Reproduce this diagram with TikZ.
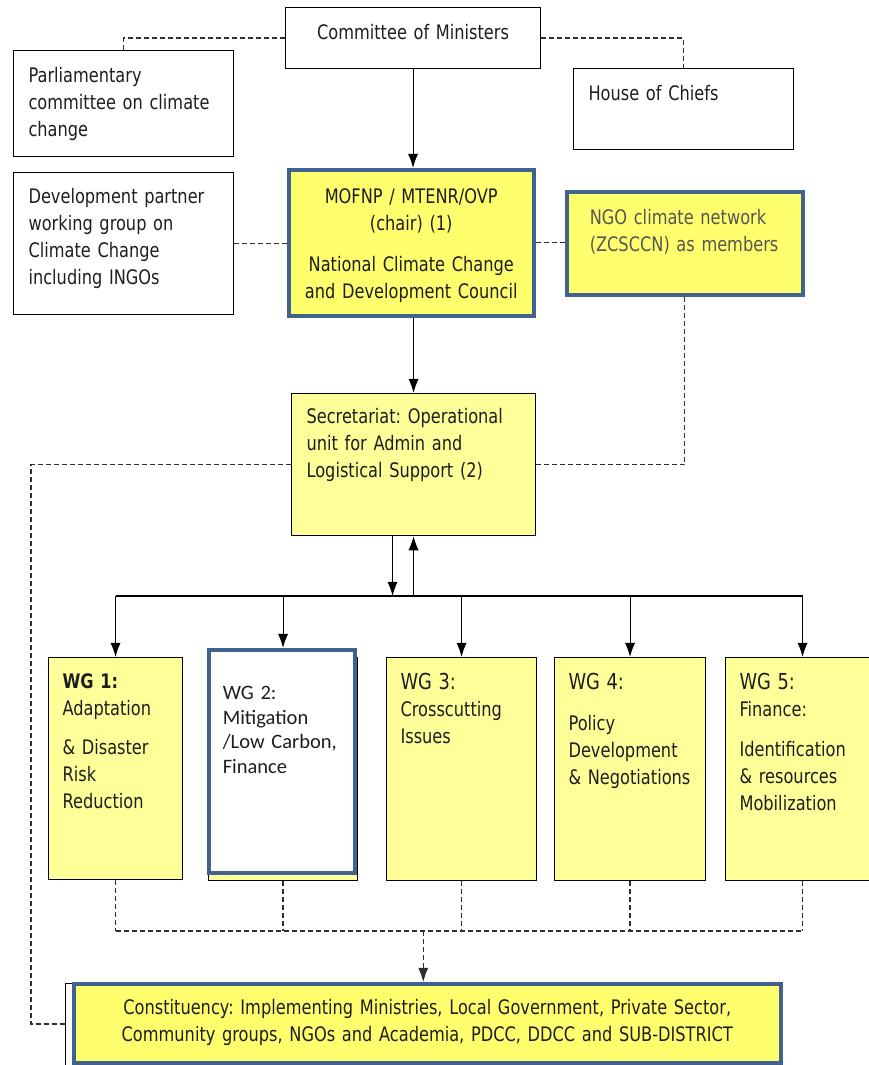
\documentclass[tikz,border=0pt]{standalone}
\usepackage{fontspec}
\setmainfont{DejaVu Sans}[FakeStretch=0.81]
\newfontfamily\wgtwofont{Carlito}
\usetikzlibrary{arrows.meta,positioning,calc}
\definecolor{Frame}{HTML}{41618F}
\definecolor{PaleYellow}{HTML}{FFFF99}
\definecolor{BrightYellow}{HTML}{FFFF6E}
\definecolor{Ink}{HTML}{1E1E1E}
\definecolor{Muted}{HTML}{555555}
\definecolor{DashGray}{HTML}{2E2E2E}
\newcommand\bodysize{\fontsize{20}{27}\selectfont\frenchspacing}
\newcommand\titlesize{\fontsize{22}{27}\selectfont}

\begin{document}
\begin{tikzpicture}[x=1pt,y=-1pt,
    every node/.style={font=\bodysize,text=Ink},
    box/.style={draw=black,line width=1.1pt,anchor=north west,inner ysep=0pt,inner xsep=15pt,align=left},
    dims/.style n args={3}{text width=#1,text height=#2,text depth=#3},
    pale/.style={fill=PaleYellow},
    framed/.style={draw=Frame,line width=3.5pt,fill=BrightYellow},
    link/.style={-{Latex[length=5mm,width=3.6mm]},line width=1.1pt},
    dashlink/.style={dash pattern=on 5pt off 3pt,line width=1.2pt,draw=DashGray}
]
\useasboundingbox (0,0) rectangle (869,1065);

% top row
\node[box,align=center,inner xsep=5pt,dims={245pt}{32pt}{29pt}] (com) at (285,7) {Committee of Ministers};
\node[box,dims={190pt}{31.5pt}{74.5pt}] (parl) at (13,50) {Parliamentary\\committee on climate\\change};
\node[box,dims={190pt}{32pt}{49pt}] (chiefs) at (573,68) {House of Chiefs};

% council row
\node[box,dims={190pt}{31pt}{111pt}] (devp) at (13,172) {Development partner\\working group on\\Climate Change\\including INGOs};
\node[box,framed,align=center,inner xsep=5pt,dims={235pt}{34pt}{112pt}] (council) at (287,168) {MOFNP / MTENR/OVP\\(chair) (1)\\[14pt]National Climate Change\\and Development Council};
\node[box,dims={190pt}{33pt}{61pt}] (ngoback) at (572,200) {};
\node[box,framed,inner xsep=23pt,text=Muted,dims={190pt}{33pt}{70pt}] (ngo) at (565,190) {NGO climate network\\(ZCSCCN) as members};

\node[box,pale,dims={214pt}{30pt}{112pt}] (sec) at (291,393) {Secretariat: Operational\\unit for Admin and\\Logistical Support (2)};

% working groups
\node[box,pale,inner xsep=14pt,dims={106pt}{31pt}{191pt}] (wg1) at (48,657) {\textbf{WG 1:}\\Adaptation\\[12pt]\& Disaster\\Risk\\Reduction};
\node[box,pale,dims={119pt}{31pt}{192pt}] (wg2back) at (208,657) {};
\node[box,draw=Frame,line width=3.5pt,fill=white,inner xsep=14pt,font=\wgtwofont\fontsize{20.5}{24.5}\selectfont,dims={118pt}{50pt}{173pt}] (wg2) at (207,648) {WG 2:\\Mitigation\\/Low Carbon,\\Finance};
\node[box,pale,inner xsep=14pt,dims={122pt}{32pt}{191pt}] (wg3) at (386,657) {{\titlesize WG 3:}\\Crosscutting\\Issues};
\node[box,pale,inner xsep=14pt,dims={123pt}{32pt}{191pt}] (wg4) at (554,657) {{\titlesize WG 4:}\\[14pt]Policy\\Development\\\& Negotiations};
\node[box,pale,inner xsep=14pt,dims={126pt}{32pt}{191pt}] (wg5) at (725,657) {{\titlesize WG 5:}\\Finance:\\[13pt]Identification\\\& resources\\Mobilization};

% constituency
\node[box,dims={682pt}{30pt}{62pt}] (conback) at (65,983) {};
\node[box,framed,align=center,inner xsep=5pt,font=\fontsize{20}{26.5}\selectfont\frenchspacing,dims={697pt}{31pt}{48pt}] (con) at (72,982) {Constituency: Implementing Ministries, Local Government, Private Sector,\\Community groups, NGOs and Academia, PDCC, DDCC and SUB-DISTRICT};

\coordinate (bus) at (0,596);
\coordinate (low) at (0,931);
\coordinate (lft) at (31,1024);

% solid links
\draw[link] (com.south) -- (com.south |- council.north);
\draw[link] (sec.north |- council.south) -- (sec.north);
\draw[link] ([xshift=-21pt]sec.south) -- ([xshift=-21pt]sec.south |- bus);
\draw[link] (sec.south |- bus) -- (sec.south);
\draw[line width=1.1pt] (wg1.north |- bus) -- (wg5.north |- bus);
\foreach \w/\t in {wg1/wg1,wg2back/wg2,wg3/wg3,wg4/wg4,wg5/wg5}
  \draw[link] (\w.north |- bus) -- (\w.north |- \t.north);

% dashed links
\draw[dashlink] (com.west) -| (parl.north);
\draw[dashlink] (com.east) -| (chiefs.north);
\draw[dashlink] (devp.east) -- (devp.east -| council.west);
\draw[dashlink] (council.east) -- (council.east -| ngo.west);
\draw[dashlink] (ngo.south) |- (sec.east);
\draw[dashlink] (sec.west) -| (lft) -- (lft -| conback.west);
\foreach \w in {wg1,wg2back,wg3,wg4,wg5}
  \draw[dashlink] (\w.south) -- (\w.south |- low);
\draw[dashlink] (wg1.south |- low) -- (wg5.south |- low);
\draw[dashlink,-{Latex[length=5mm,width=3.6mm]}] ([xshift=-4pt]con.north |- low) -- ([xshift=-4pt]con.north);
\end{tikzpicture}
\end{document}
